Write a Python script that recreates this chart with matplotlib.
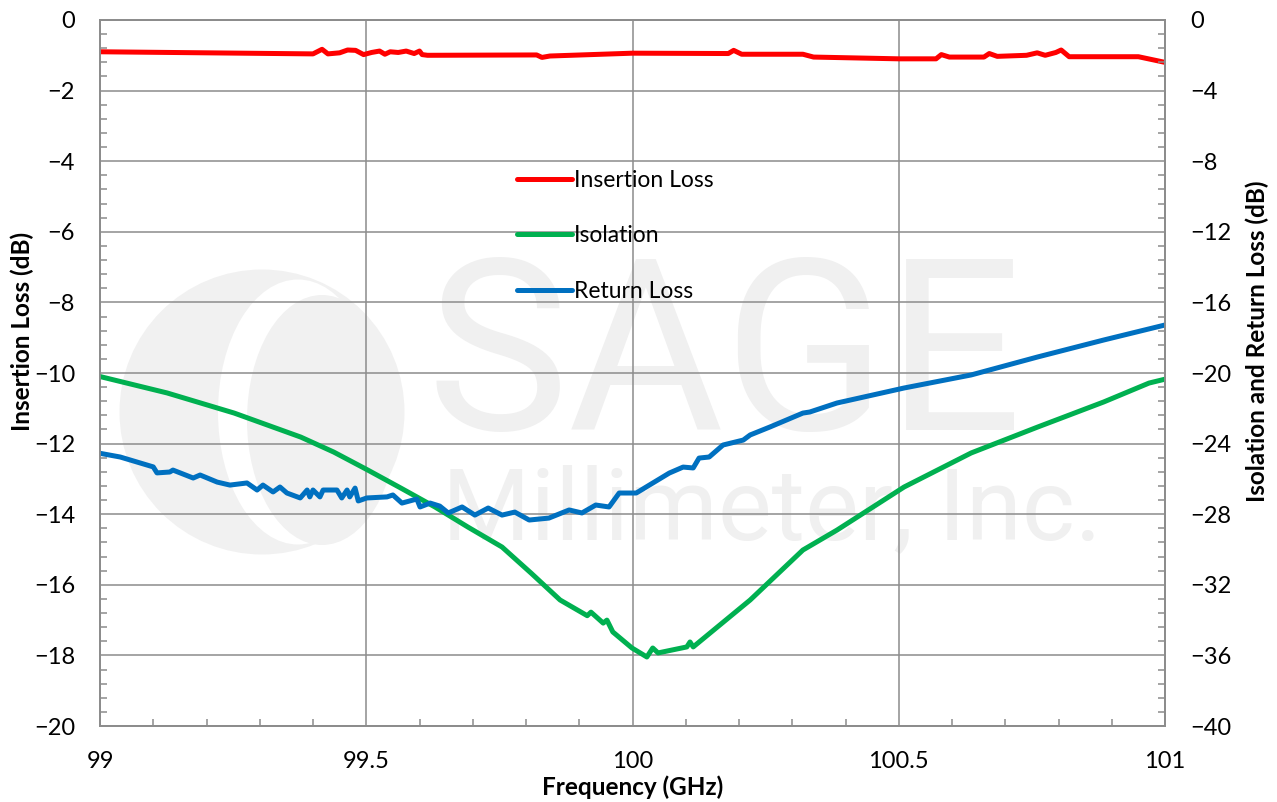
import matplotlib
matplotlib.use("Agg")
import matplotlib.pyplot as plt
from matplotlib.patches import Ellipse
from matplotlib.ticker import MultipleLocator

plt.rcParams['font.family'] = ['Lato', 'DejaVu Sans']

# insertion loss (left axis, dB)
freq_il = [99.000, 99.200, 99.400, 99.417, 99.428, 99.450, 99.465, 99.480, 99.495, 99.510,
           99.525, 99.535, 99.545, 99.560, 99.575, 99.590, 99.600, 99.605, 99.615, 99.820,
           99.830, 99.845, 100.000, 100.180, 100.190, 100.205, 100.320, 100.340, 100.500, 100.570,
           100.580, 100.595, 100.660, 100.670, 100.685, 100.740, 100.760, 100.775, 100.795, 100.805,
           100.820, 100.950, 101.000]
il = [-0.90, -0.93, -0.96, -0.83, -0.96, -0.93, -0.85, -0.86, -0.98, -0.92,
      -0.88, -0.97, -0.90, -0.92, -0.88, -0.95, -0.88, -0.98, -1.00, -0.99,
      -1.06, -1.02, -0.94, -0.95, -0.86, -0.97, -0.97, -1.05, -1.10, -1.10,
      -0.98, -1.05, -1.05, -0.95, -1.03, -1.00, -0.93, -1.00, -0.92, -0.85,
      -1.04, -1.04, -1.20]

# isolation (right axis, dB)
freq_iso = [99.000, 99.126, 99.252, 99.377, 99.439, 99.503, 99.565, 99.629, 99.691, 99.755,
            99.810, 99.864, 99.915, 99.922, 99.945, 99.952, 99.963, 99.999, 100.027, 100.038,
            100.048, 100.102, 100.108, 100.114, 100.221, 100.320, 100.384, 100.510, 100.636, 100.761,
            100.885, 100.970, 101.000]
iso = [-20.20, -21.13, -22.27, -23.63, -24.48, -25.50, -26.52, -27.59, -28.73, -29.86,
       -31.35, -32.86, -33.75, -33.55, -34.17, -34.00, -34.67, -35.58, -36.09, -35.58,
       -35.86, -35.52, -35.24, -35.52, -32.86, -30.03, -28.90, -26.46, -24.53, -23.06,
       -21.64, -20.57, -20.35]

# return loss (right axis, dB)
freq_rl = [99.000, 99.038, 99.100, 99.107, 99.131, 99.137, 99.175, 99.188, 99.220, 99.244,
           99.276, 99.295, 99.306, 99.325, 99.338, 99.351, 99.376, 99.389, 99.394, 99.400,
           99.413, 99.419, 99.445, 99.454, 99.464, 99.469, 99.479, 99.485, 99.501, 99.539,
           99.550, 99.567, 99.595, 99.601, 99.620, 99.638, 99.654, 99.680, 99.704, 99.729,
           99.755, 99.779, 99.806, 99.843, 99.881, 99.905, 99.931, 99.956, 99.975, 100.007,
           100.069, 100.095, 100.114, 100.125, 100.144, 100.170, 100.208, 100.221, 100.258, 100.320,
           100.333, 100.384, 100.510, 100.636, 100.761, 100.885, 101.000]
rl = [-24.55, -24.76, -25.32, -25.66, -25.61, -25.50, -25.95, -25.78, -26.18, -26.35,
      -26.23, -26.63, -26.35, -26.74, -26.46, -26.80, -27.08, -26.63, -27.02, -26.63,
      -27.02, -26.63, -26.63, -27.08, -26.63, -27.02, -26.52, -27.25, -27.08, -27.02,
      -26.91, -27.37, -27.14, -27.59, -27.37, -27.54, -27.93, -27.59, -28.05, -27.65,
      -28.05, -27.88, -28.33, -28.22, -27.76, -27.93, -27.48, -27.59, -26.80, -26.80,
      -25.67, -25.33, -25.38, -24.82, -24.76, -24.08, -23.80, -23.51, -23.06, -22.27,
      -22.21, -21.70, -20.85, -20.11, -19.09, -18.13, -17.28]

labels = ['Insertion Loss', 'Isolation', 'Return Loss']
colors = ['#FF0000', '#00B050', '#0070C0']

W, H = 1277, 802
fig = plt.figure(figsize=(W / 100, H / 100), dpi=100)
ax = fig.add_axes([100 / W, 76 / H, 1065 / W, 706 / H])
ax2 = ax.twinx()

# faint watermark behind the plot
wm = '#f1f1f1'
aw, ah = 1065.0, 706.0
def px_ellipse(cx, cy, w, h, color):
    return Ellipse(((cx - 100) / aw, (726 - cy) / ah), w / aw, h / ah,
                   transform=ax.transAxes, color=color, zorder=0, lw=0)
ax.add_patch(px_ellipse(262, 412, 285, 285, wm))
ax.add_patch(px_ellipse(298, 412, 160, 265, 'white'))
ax.add_patch(px_ellipse(322, 420, 150, 250, wm))
ax.text((725 - 100) / aw, (726 - 365) / ah, 'SAGE', transform=ax.transAxes, fontsize=172,
        family='Roboto', fontweight='normal', color='#f0f0f0', ha='center', va='center', zorder=0)
ax.text((772 - 100) / aw, (726 - 512) / ah, 'Millimeter, Inc.', transform=ax.transAxes, fontsize=73,
        family='Roboto', fontweight='normal', color='#f0f0f0', ha='center', va='center', zorder=0)

lw = 3.6
l1, = ax.plot(freq_il, il, color=colors[0], lw=lw, solid_joinstyle='round', solid_capstyle='round')
l2, = ax2.plot(freq_iso, iso, color=colors[1], lw=lw, solid_joinstyle='round', solid_capstyle='round')
l3, = ax2.plot(freq_rl, rl, color=colors[2], lw=lw, solid_joinstyle='round', solid_capstyle='round')

ax.set_xlim(99, 101)
ax.set_ylim(-20, 0)
ax2.set_ylim(-40, 0)

ax.xaxis.set_major_locator(MultipleLocator(0.5))
ax.xaxis.set_minor_locator(MultipleLocator(0.1))
ax.yaxis.set_major_locator(MultipleLocator(2))
ax.yaxis.set_minor_locator(MultipleLocator(0.4))
ax2.yaxis.set_major_locator(MultipleLocator(4))
ax2.yaxis.set_minor_locator(MultipleLocator(0.8))
ax.set_xticks([99, 99.5, 100, 100.5, 101])
ax.set_xticklabels(['99', '99.5', '100', '100.5', '101'])

grid_c = '#8c8c8c'
ax.grid(True, which='major', color=grid_c, lw=1.1, zorder=1)
ax.set_axisbelow(True)
for a in (ax, ax2):
    for s in a.spines.values():
        s.set_color(grid_c)
        s.set_linewidth(1.3)
    a.tick_params(which='both', direction='in', color=grid_c, width=1.1, labelsize=17, pad=18)
    a.tick_params(which='major', length=0)
    a.tick_params(which='minor', length=5)

ax.set_xlabel('Frequency (GHz)', fontsize=17.5, fontweight='bold', va='center')
ax.xaxis.set_label_coords(0.5, (726 - 787) / ah)
ax.set_ylabel('Insertion Loss (dB)', fontsize=17.5, fontweight='bold', va='center')
ax.yaxis.set_label_coords((22 - 100) / aw, (726 - 331) / ah)
ax2.set_ylabel('Isolation and Return Loss (dB)', fontsize=17.5, fontweight='bold',
               va='center', rotation=90)
ax2.yaxis.set_label_coords((1257 - 100) / aw, (726 - 341) / ah)

leg = ax2.legend([l1, l2, l3], labels, loc='upper left',
                 bbox_to_anchor=((517 - 100) / aw, (726 - 170) / ah),
                 frameon=False, fontsize=16.5, handlelength=2.4, handletextpad=0.1,
                 labelspacing=1.5, borderpad=0, borderaxespad=0)

fig.savefig('out.png', dpi=100)
